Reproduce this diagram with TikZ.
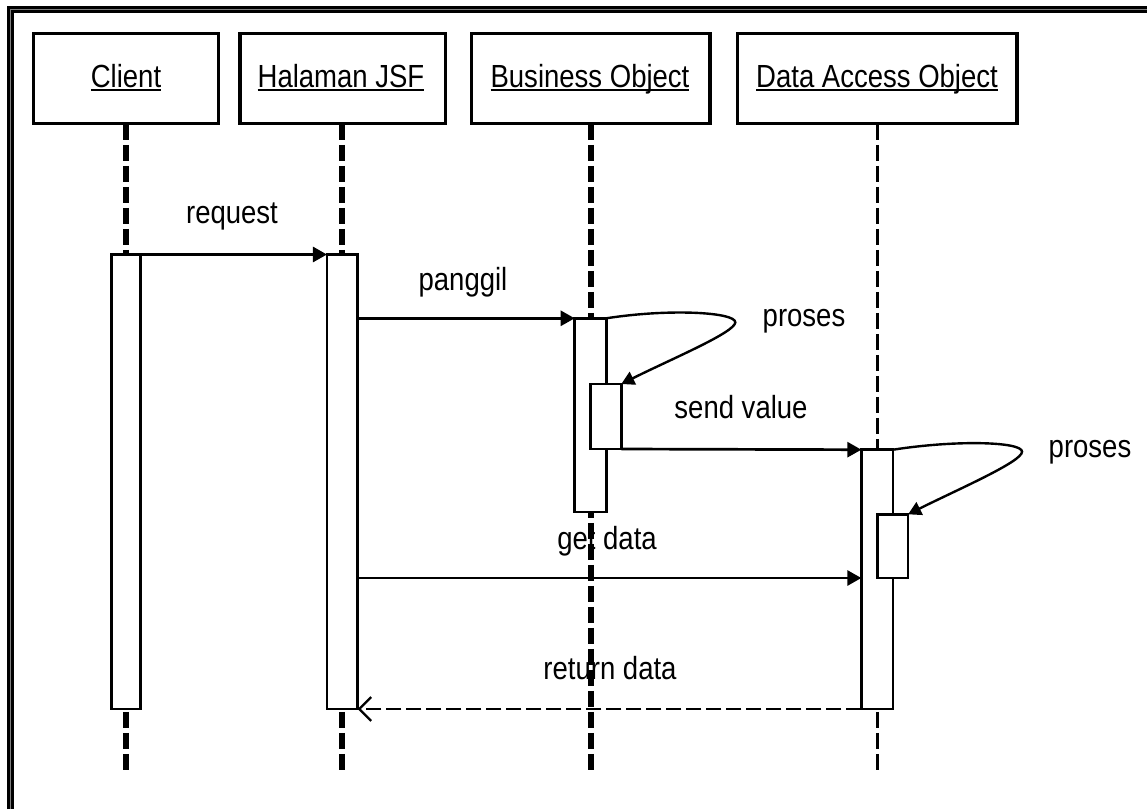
\documentclass[tikz,border=0pt]{standalone}
\usepackage{fontspec}
\setmainfont{Liberation Sans}[FakeStretch=0.86]
\usetikzlibrary{arrows.meta}

\begin{document}
\begin{tikzpicture}[x=1pt,y=-1pt,
  txt/.style={font=\fontsize{32}{38}\selectfont, inner sep=0pt, outer sep=0pt, anchor=base},
  objbox/.style={draw, line width=3.3pt, minimum height=90.5pt, inner sep=0pt, outer sep=0pt},
  actbar/.style={draw, fill=white, line width=2.8pt, inner sep=0pt, outer sep=0pt},
  lifethick/.style={line width=5.7pt, dash pattern=on 16pt off 5pt},
  lifethin/.style={line width=3pt, dash pattern=on 16pt off 5pt},
  uline/.style={line width=2pt},
  msg/.style={line width=2.7pt, -{Triangle[length=14pt,width=15pt]}},
  selfmsg/.style={line width=2.4pt, -{Triangle[length=13pt,width=14pt]}},
  retmsg/.style={line width=2.7pt, dash pattern=on 15pt off 5pt,
    -{Straight Barb[length=12pt,width=24pt,line width=2.2pt]}}
]
\useasboundingbox (0,0) rectangle (1147,809);

% window frame (top and left edges)
\draw[line width=7pt] (10.5,809) -- (10.5,9.3) -- (1147,9.3);
\draw[line width=1pt, gray] (10.5,809) -- (10.5,9.3) -- (1147,9.3);

% object headers
\node[objbox, minimum width=185.4pt] (client) at (126,78.5) {};
\node[objbox, minimum width=205.3pt] (jsf) at (342.7,78.5) {};
\node[objbox, minimum width=238.3pt] (biz) at (590.8,78.5) {};
\node[objbox, minimum width=279.3pt] (dao) at (877.3,78.5) {};

% lifeline ends
\coordinate (clientend) at (126,773);
\coordinate (jsfend) at (342,773);
\coordinate (bizend) at (591,773);
\coordinate (daoend) at (877,773);

% lifelines
\draw[lifethick] (client.south -| clientend) -- (clientend);
\draw[lifethick] (jsf.south -| jsfend) -- (jsfend);
\draw[lifethick] (biz.south -| bizend) -- (bizend);
\draw[lifethin] (dao.south -| daoend) -- (daoend);

% header labels
\node[txt] (clientlbl) at (126,87) {Client};
\node[txt] (jsflbl) at (341,87) {Halaman JSF};
\node[txt] (bizlbl) at (590,87) {Business Object};
\node[txt] (daolbl) at (877,87) {Data Access Object};
\foreach \l in {clientlbl,jsflbl,bizlbl,daolbl}
  \draw[uline] ([yshift=-2.5pt]\l.base west) -- ([yshift=-2.5pt]\l.base east);

% activation bars
\node[actbar, minimum width=28.7pt, minimum height=454.5pt] (clientbar) at (126,481.75) {};
\node[actbar, minimum width=30.7pt, minimum height=454.5pt] (jsfbar) at (342.3,481.75) {};
\node[actbar, minimum width=31.6pt, minimum height=193.7pt] (bizbar) at (590.5,415.15) {};
\node[actbar, minimum width=30.6pt, minimum height=65pt] (biznest) at (606,416.5) {};
\node[actbar, minimum width=31.7pt, minimum height=259.3pt] (daobar) at (877.2,579.35) {};
\node[actbar, minimum width=30.7pt, minimum height=63.7pt] (daonest) at (892.7,546.15) {};

% messages
\draw[msg] (clientbar.north east) -- (jsfbar.north west);
\draw[msg] (jsfbar.east |- bizbar.north) -- (bizbar.north west);
\draw[selfmsg] (bizbar.north east) .. controls +(64,-10) and +(0,-10) .. ++(129,4)
  .. controls +(0,10) and +(50,-25) .. (biznest.north east);
\draw[msg] (biznest.south east) -- (daobar.north west);
\draw[selfmsg] (daobar.north east) .. controls +(64,-10) and +(0,-10) .. ++(129,2)
  .. controls +(0,10) and +(50,-25) .. (daonest.north east);
\draw[msg] (jsfbar.east |- daonest.south) -- (daobar.west |- daonest.south);
\draw[retmsg] (daobar.south west) -- (jsfbar.south east);

% message labels
\node[txt] (lreq) at (232,223) {request};
\node[txt] (lcall) at (463,290) {panggil};
\node[txt] (lproc1) at (804,326) {proses};
\node[txt] (lsend) at (741,418) {send value};
\node[txt] (lproc2) at (1090,457) {proses};
\node[txt] (lget) at (607,549) {get data};
\node[txt] (lret) at (610,679) {return data};
\end{tikzpicture}
\end{document}
